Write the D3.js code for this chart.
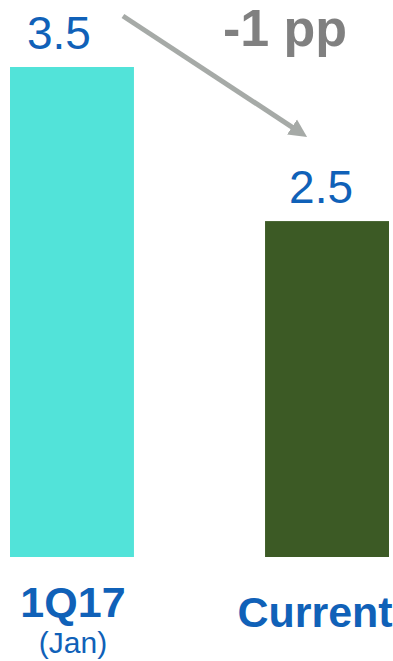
<!DOCTYPE html>
<html>
<head>
<meta charset="utf-8">
<script src="https://cdn.jsdelivr.net/npm/d3@7"></script>
<style>
  html, body { margin: 0; padding: 0; background: #fff; }
  svg { display: block; font-family: "Liberation Sans", Arial, sans-serif; }
</style>
</head>
<body>
<svg id="chart" width="393" height="661"></svg>
<script>
const categories = ["1Q17", "Current"];
const subLabels = ["(Jan)", ""];
const values = [3.5, 2.5];
const barColors = ["#52e3d9", "#3c5a25"];
const changeLabel = "-1 pp";

const svg = d3.select("#chart");

const x = d3.scaleBand().domain(categories).range([10, 389]).paddingInner(0.514).paddingOuter(0);
const y = d3.scaleLinear().domain([0.32, 3.5]).range([557, 67]);

svg.selectAll("rect.bar")
  .data(categories)
  .join("rect")
  .attr("class", "bar")
  .attr("x", d => x(d))
  .attr("width", x.bandwidth())
  .attr("y", (d, i) => y(values[i]))
  .attr("height", (d, i) => y.range()[0] - y(values[i]))
  .attr("fill", (d, i) => barColors[i]);

const valOffset = [-13, -6];
svg.selectAll("text.val")
  .data(categories)
  .join("text")
  .attr("class", "val")
  .attr("x", (d, i) => x(d) + x.bandwidth() / 2 + valOffset[i])
  .attr("y", (d, i) => y(values[i]) - 18)
  .attr("text-anchor", "middle")
  .attr("font-size", 46)
  .attr("fill", "#1061b8")
  .text((d, i) => d3.format(".1f")(values[i]));

const catOffset = [1, -12];
const catBaseline = [617, 627];
svg.selectAll("text.cat")
  .data(categories)
  .join("text")
  .attr("class", "cat")
  .attr("x", (d, i) => x(d) + x.bandwidth() / 2 + catOffset[i])
  .attr("y", (d, i) => catBaseline[i])
  .attr("text-anchor", "middle")
  .attr("font-size", 43)
  .attr("font-weight", "bold")
  .attr("fill", "#1061b8")
  .text(d => d);

svg.selectAll("text.sub")
  .data(categories.filter((d, i) => subLabels[i]))
  .join("text")
  .attr("class", "sub")
  .attr("x", d => x(d) + x.bandwidth() / 2 + 1)
  .attr("y", 653)
  .attr("text-anchor", "middle")
  .attr("font-size", 30)
  .attr("fill", "#1061b8")
  .text(d => subLabels[categories.indexOf(d)]);

// arrow
const defs = svg.append("defs");
defs.append("marker")
  .attr("id", "ah")
  .attr("viewBox", "0 0 10 10")
  .attr("refX", 1).attr("refY", 5)
  .attr("markerWidth", 3.6).attr("markerHeight", 3.8)
  .attr("markerUnits", "strokeWidth")
  .attr("orient", "auto")
  .append("path")
  .attr("d", "M0,0 L10,5 L0,10 Z")
  .attr("fill", "#a6aaa7");

const x1 = x(categories[0]) + x.bandwidth() - 11;
const y1 = y(values[0]) - 51;
const x2 = x(categories[1]) + 28.5;
const y2 = y(values[1]) - 93;
svg.append("line")
  .attr("x1", x1).attr("y1", y1)
  .attr("x2", x2).attr("y2", y2)
  .attr("stroke", "#a6aaa7")
  .attr("stroke-width", 5)
  .attr("marker-end", "url(#ah)");

svg.append("text")
  .attr("x", 285)
  .attr("y", 46)
  .attr("text-anchor", "middle")
  .attr("font-size", 52)
  .attr("font-weight", "bold")
  .attr("fill", "#808080")
  .text(changeLabel);
</script>
</body>
</html>
